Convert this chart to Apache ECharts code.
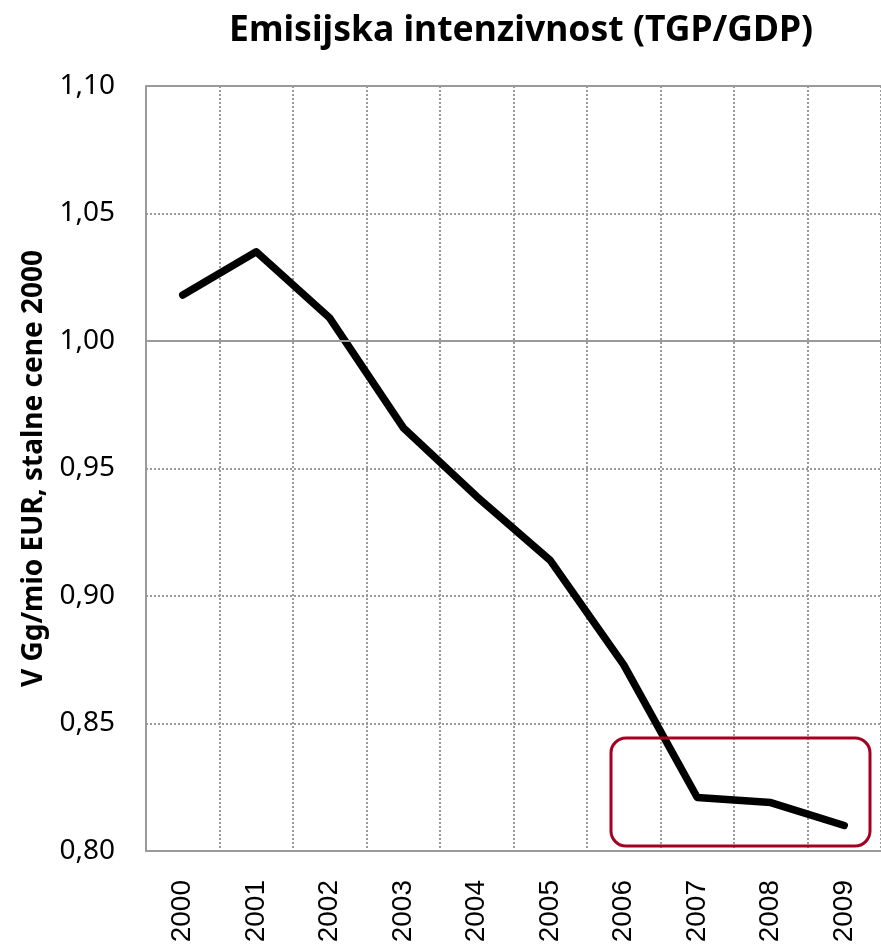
<!DOCTYPE html>
<html>
<head>
<meta charset="utf-8">
<script src="https://cdn.jsdelivr.net/npm/echarts@6/dist/echarts.min.js"></script>
<style>
  html, body { margin: 0; padding: 0; background: #fff; }
  #chart { width: 881px; height: 946px; }
</style>
</head>
<body>
<div id="chart"></div>
<script>
const years = ["2000", "2001", "2002", "2003", "2004", "2005", "2006", "2007", "2008", "2009"];
const intensity = [1.018, 1.035, 1.009, 0.966, 0.939, 0.914, 0.873, 0.821, 0.819, 0.810];
const yTicks = { min: 0.8, max: 1.1, step: 0.05 };

const gridColor = "#9a9a9a";
const dotted = { color: gridColor, width: 2, type: [2, 2] };

const chart = echarts.init(document.getElementById("chart"));
chart.setOption({
  animation: false,
  title: {
    text: "Emisijska intenzivnost (TGP/GDP)",
    left: 516,
    textAlign: "center",
    top: 8,
    textStyle: { fontFamily: "Noto Sans", fontWeight: "bold", fontSize: 35.5, color: "#000" },
  },
  grid: { left: 146, right: 0, top: 86, bottom: 95, outerBoundsMode: "none", containLabel: false },
  xAxis: {
    type: "category",
    data: years,
    boundaryGap: true,
    axisLine: { lineStyle: { color: gridColor, width: 2 } },
    axisTick: { show: false },
    axisLabel: {
      rotate: 90,
      margin: 29,
      fontFamily: "Liberation Sans",
      fontSize: 28,
      color: "#000",
    },
    splitLine: { show: true, interval: 0, lineStyle: dotted },
  },
  yAxis: {
    type: "value",
    min: yTicks.min,
    max: yTicks.max,
    interval: yTicks.step,
    name: "V Gg/mio EUR, stalne cene 2000",
    nameLocation: "middle",
    nameGap: 98,
    nameTextStyle: { fontFamily: "Noto Sans", fontWeight: "bold", fontSize: 28, color: "#000" },
    axisLine: { show: true, lineStyle: { color: gridColor, width: 2 } },
    axisTick: { show: false },
    axisLabel: {
      margin: 31,
      fontFamily: "Noto Sans",
      fontSize: 28,
      color: "#000",
      formatter: (v) => v.toFixed(2).replace(".", ","),
    },
    splitLine: { show: true, lineStyle: dotted },
  },
  series: [
    {
      type: "line",
      data: intensity,
      symbol: "none",
      lineStyle: { color: "#000", width: 7.5, cap: "round", join: "round" },
      markLine: {
        silent: true,
        symbol: "none",
        label: { show: false },
        lineStyle: { color: gridColor, width: 2, type: "solid" },
        data: [{ yAxis: 1.0 }, { yAxis: 1.1 }],
      },
      z: 3,
    },
  ],
  graphic: [
    {
      type: "rect",
      shape: { x: 611, y: 738, width: 259, height: 108, r: 15 },
      style: { fill: "none", stroke: "#A50021", lineWidth: 3 },
      z: 10,
    },
  ],
});
</script>
</body>
</html>
